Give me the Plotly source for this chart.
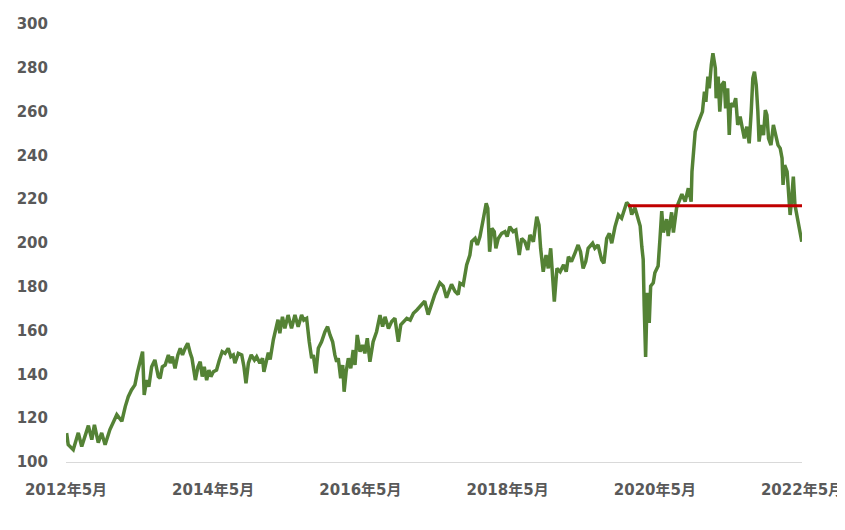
import plotly.graph_objects as go

dates = [
    # 2012-05 .. 2013-02
    "2012-05-04", "2012-05-12", "2012-06-06", "2012-07-01", "2012-07-18", "2012-08-20", "2012-09-06",
    "2012-09-19", "2012-10-08", "2012-10-25", "2012-11-11", "2012-12-05", "2013-01-08", "2013-02-02",
    # 2013-02 .. 2015-01
    "2013-02-19", "2013-03-06", "2013-03-22", "2013-04-08", "2013-04-21", "2013-05-03", "2013-05-16",
    "2013-05-24", "2013-06-05", "2013-06-16", "2013-06-30", "2013-07-16", "2013-07-25", "2013-08-02",
    "2013-08-11", "2013-08-22", "2013-09-05", "2013-09-21", "2013-09-30", "2013-10-11", "2013-10-24",
    "2013-11-07", "2013-11-19", "2013-11-30", "2013-12-13", "2013-12-26", "2014-01-08", "2014-01-16",
    "2014-02-02", "2014-02-15", "2014-02-26", "2014-03-08", "2014-03-18", "2014-03-30", "2014-04-10",
    "2014-04-20", "2014-05-02", "2014-05-18", "2014-06-01", "2014-06-15", "2014-06-29", "2014-07-15",
    "2014-07-28", "2014-08-09", "2014-08-17", "2014-09-03", "2014-09-20", "2014-10-01", "2014-10-11",
    "2014-10-23", "2014-11-06", "2014-11-22", "2014-12-03", "2014-12-19", "2015-01-01",
    # 2015-01 .. 2015-03
    "2015-01-08", "2015-01-30", "2015-02-08", "2015-02-24", "2015-03-19",
    # 2015-03 .. 2017-02
    "2015-03-28", "2015-04-10", "2015-04-22", "2015-05-08", "2015-05-25", "2015-06-11", "2015-06-27",
    "2015-07-14", "2015-07-25", "2015-08-08", "2015-08-21", "2015-09-02", "2015-09-10", "2015-09-23",
    "2015-10-05", "2015-10-21", "2015-11-07", "2015-11-20", "2015-12-02", "2015-12-15", "2015-12-26",
    "2016-01-04", "2016-01-12", "2016-01-24", "2016-02-03", "2016-02-10", "2016-02-20", "2016-03-02",
    "2016-03-14", "2016-03-26", "2016-04-04", "2016-04-15", "2016-04-29", "2016-05-12", "2016-05-23",
    "2016-06-04", "2016-06-17", "2016-07-03", "2016-07-20", "2016-08-06", "2016-08-19", "2016-08-31",
    "2016-09-17", "2016-10-03", "2016-10-19", "2016-11-05", "2016-11-17", "2016-12-03", "2016-12-17",
    "2017-01-03", "2017-01-19", "2017-02-05", "2017-02-21",
    # 2017-03 .. 2017-08
    "2017-03-16", "2017-04-02", "2017-04-19", "2017-05-05", "2017-05-30", "2017-06-16", "2017-07-02",
    "2017-07-27", "2017-08-13", "2017-08-29",
    # 2017-09 .. 2019-11
    "2017-09-07", "2017-09-23", "2017-10-10", "2017-10-26", "2017-11-04", "2017-11-21", "2017-12-02",
    "2017-12-15", "2017-12-29", "2018-01-15", "2018-01-23", "2018-02-01", "2018-02-12", "2018-02-24",
    "2018-03-04", "2018-03-16", "2018-04-02", "2018-04-18", "2018-04-29", "2018-05-12", "2018-05-29",
    "2018-06-11", "2018-06-28", "2018-07-10", "2018-07-26", "2018-08-09", "2018-08-20", "2018-09-06",
    "2018-09-23", "2018-10-04", "2018-10-12", "2018-10-25", "2018-11-08", "2018-11-19", "2018-12-01",
    "2018-12-11", "2018-12-19", "2019-01-01", "2019-01-17", "2019-02-03", "2019-02-16", "2019-02-27",
    "2019-03-14", "2019-03-31", "2019-04-16", "2019-04-28", "2019-05-11", "2019-05-24", "2019-06-05",
    "2019-06-27", "2019-07-08", "2019-07-24", "2019-08-11", "2019-08-22", "2019-09-05", "2019-09-18",
    "2019-09-30", "2019-10-16", "2019-11-02", "2019-11-18",
    # 2019-12 .. 2020-09
    "2019-12-13", "2019-12-29", "2020-01-07", "2020-01-23", "2020-02-09", "2020-02-18", "2020-02-26",
    "2020-03-04", "2020-03-09", "2020-03-16", "2020-03-24", "2020-04-03", "2020-04-10", "2020-04-23",
    "2020-05-01", "2020-05-17", "2020-05-26", "2020-06-04", "2020-06-12", "2020-06-28", "2020-07-06",
    "2020-07-23", "2020-08-01", "2020-08-17", "2020-09-12",
    # 2020-09 .. 2022-04
    "2020-09-28", "2020-10-14", "2020-10-28", "2020-11-01", "2020-11-09", "2020-11-17", "2020-12-01",
    "2020-12-11", "2020-12-23", "2021-01-02", "2021-01-09", "2021-01-19", "2021-01-26", "2021-02-05",
    "2021-02-13", "2021-02-25", "2021-03-01", "2021-03-11", "2021-03-19", "2021-03-28", "2021-04-10",
    "2021-04-17", "2021-04-27", "2021-05-05", "2021-05-12", "2021-05-25", "2021-06-06", "2021-06-16",
    "2021-06-28", "2021-07-09", "2021-07-19", "2021-07-31", "2021-08-12", "2021-08-22", "2021-08-30",
    "2021-09-07", "2021-09-16", "2021-09-24", "2021-09-30", "2021-10-11", "2021-10-22", "2021-10-31",
    "2021-11-08", "2021-11-16", "2021-11-28", "2021-12-10", "2021-12-22", "2022-01-02", "2022-01-13",
    "2022-01-22", "2022-01-27", "2022-02-04", "2022-02-16", "2022-02-24", "2022-03-03", "2022-03-11",
    "2022-03-19", "2022-03-27", "2022-04-08", "2022-04-21", "2022-04-30",
]

prices = [
    # 2012-05 .. 2013-02
    113.2, 107.9, 105.6, 113.3, 107.1, 116.6, 110.2,
    117.0, 108.8, 113.3, 107.9, 114.8, 121.6, 118.6,
    # 2013-02 .. 2015-01
    125.3, 129.8, 132.9, 135.2, 141.2, 145.1, 150.4,
    130.6, 137.4, 134.4, 143.5, 146.6, 142.0, 139.0,
    138.2, 143.5, 144.3, 148.9, 145.1, 148.1, 142.8,
    148.9, 151.9, 148.9, 151.9, 154.2, 149.6, 147.4,
    137.4, 143.5, 145.8, 139.0, 143.5, 137.4, 142.0,
    139.0, 141.2, 142.0, 146.6, 150.4, 149.6, 151.9,
    148.1, 148.9, 145.1, 149.6, 148.9, 143.5, 135.9,
    145.1, 148.9, 146.6, 148.1, 145.1, 147.4,
    # 2015-01 .. 2015-03
    141.2, 149.9, 146.8, 155.9, 165.0,
    # 2015-03 .. 2017-02
    158.8, 166.3, 161.0, 167.1, 161.0, 167.1, 161.8,
    167.1, 164.8, 165.6, 154.9, 147.4, 148.9, 140.5,
    151.9, 154.9, 159.5, 161.8, 158.0, 154.9, 148.9,
    145.8, 147.4, 138.2, 144.3, 132.1, 141.2, 147.4,
    142.8, 151.1, 144.3, 158.0, 150.4, 153.4, 149.6,
    156.5, 145.8, 154.9, 159.5, 167.1, 161.8, 166.3,
    161.0, 164.1, 165.6, 154.9, 162.6, 164.1, 165.6,
    164.8, 167.9, 169.4, 170.9,
    # 2017-03 .. 2017-08
    173.4, 167.3, 172.7, 176.5, 181.8, 180.3, 175.0,
    181.1, 178.0, 176.5,
    # 2017-09 .. 2019-11
    181.6, 180.8, 190.0, 194.5, 200.6, 202.1, 199.1,
    202.9, 209.7, 218.1, 215.8, 196.0, 206.7, 205.2,
    197.6, 202.1, 204.4, 205.2, 202.9, 207.4, 205.2,
    205.9, 194.5, 202.1, 200.6, 196.8, 203.7, 200.6,
    212.0, 208.2, 197.6, 186.9, 194.5, 188.4, 197.6,
    183.9, 173.2, 188.4, 186.9, 190.0, 186.9, 193.7,
    191.5, 195.3, 199.1, 196.0, 188.4, 191.5, 197.6,
    199.9, 197.6, 199.1, 192.2, 190.7, 202.1, 204.4,
    199.9, 207.4, 212.8, 211.3,
    # 2019-12 .. 2020-09
    218.5, 216.8, 213.0, 216.1, 210.8, 207.7, 198.5,
    192.5, 171.1, 148.0, 177.3, 163.5, 180.3, 181.8,
    186.4, 189.5, 201.6, 214.6, 204.8, 210.9, 203.2,
    214.0, 204.8, 216.2, 222.3,
    # 2020-09 .. 2022-04
    218.9, 225.0, 218.9, 232.6, 243.2, 250.8, 254.7,
    257.7, 260.0, 269.1, 264.5, 276.0, 270.6, 281.3,
    286.6, 279.8, 266.1, 276.0, 260.0, 272.1, 273.7,
    261.5, 270.6, 249.3, 263.8, 262.2, 266.1, 253.9,
    257.7, 252.4, 247.8, 253.1, 245.5, 260.0, 275.2,
    278.2, 272.1, 260.0, 246.3, 253.9, 249.3, 260.7,
    258.4, 247.8, 244.7, 253.9, 249.3, 244.7, 243.2,
    238.7, 226.5, 235.6, 232.6, 221.9, 212.8, 220.4,
    230.3, 217.4, 211.3, 206.7, 200.6,
]

ref_dates = ["2019-12-20", "2022-05-01"]
ref_level = [217.0, 217.0]

tick_vals = ["2012-05-01", "2014-05-01", "2016-05-01", "2018-05-01", "2020-05-01", "2022-05-01"]
tick_text = ["2012年5月", "2014年5月", "2016年5月", "2018年5月", "2020年5月", "2022年5月"]
y_ticks = [100, 120, 140, 160, 180, 200, 220, 240, 260, 280, 300]

fig = go.Figure()
fig.add_trace(go.Scatter(x=dates, y=prices, mode="lines",
                         line=dict(color="#548235", width=3.5), showlegend=False))
fig.add_trace(go.Scatter(x=ref_dates, y=ref_level, mode="lines",
                         line=dict(color="#C00000", width=3), showlegend=False))

font_family = "DejaVu Sans, Noto Sans CJK JP, sans-serif"
fig.update_layout(
    width=837, height=522,
    margin=dict(l=58, r=43, t=16, b=68, autoexpand=False),
    plot_bgcolor="white", paper_bgcolor="white",
    font=dict(family=font_family, size=15, color="#595959"),
    xaxis=dict(
        range=["2012-05-01", "2022-05-01"],
        tickvals=tick_vals, ticktext=tick_text,
        showgrid=False, zeroline=False,
        showline=True, linecolor="#D9D9D9", linewidth=1,
        ticks="", ticklabelstandoff=14,
        tickfont=dict(family=font_family, size=15, color="#595959", weight="bold"),
    ),
    yaxis=dict(
        range=[100, 300], tickvals=y_ticks,
        showgrid=False, zeroline=False, showline=False,
        ticks="", ticklabelstandoff=17,
        tickfont=dict(family=font_family, size=15, color="#595959", weight="bold"),
    ),
)

fig.write_html("out.html")
